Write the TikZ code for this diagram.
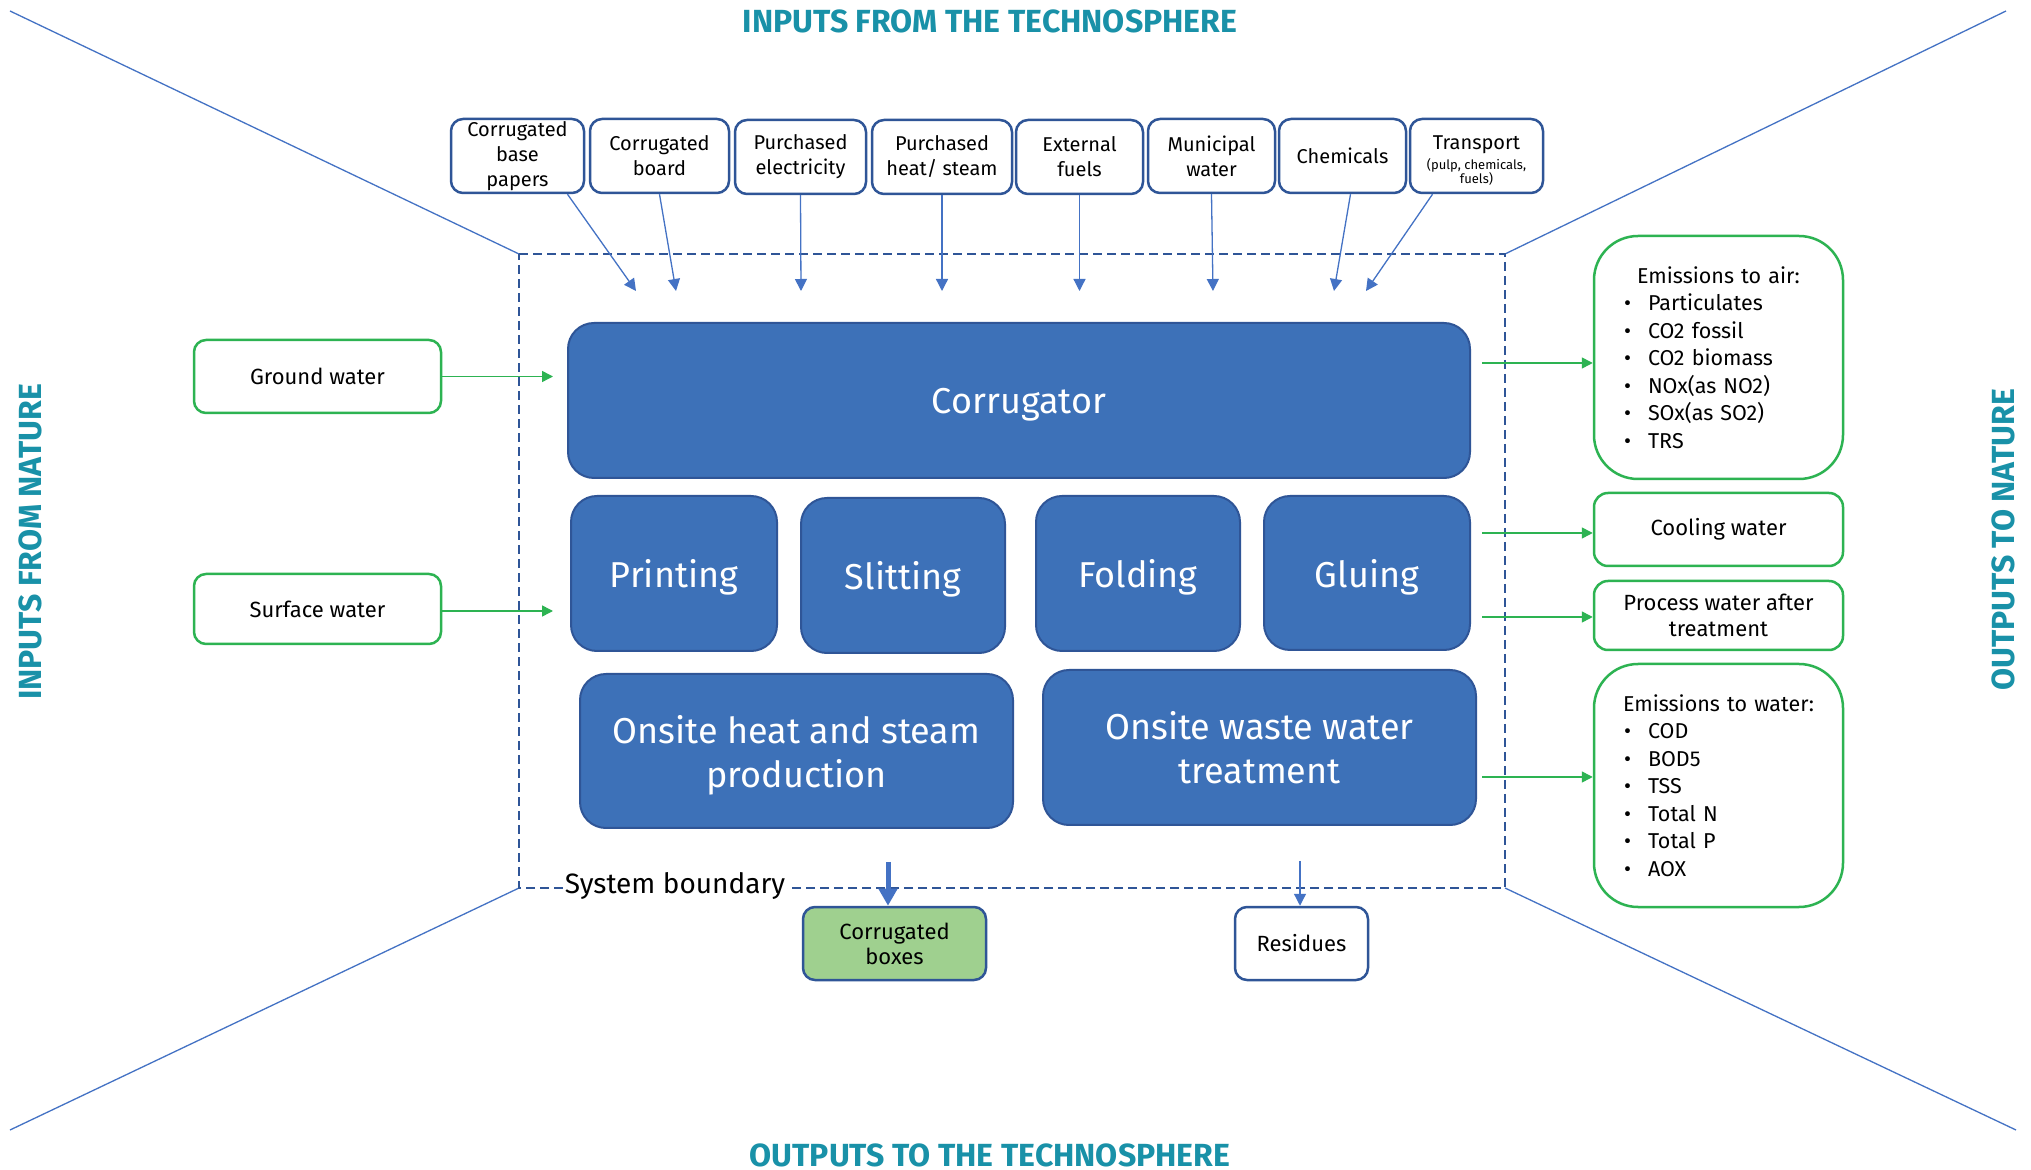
\documentclass[tikz,border=0pt]{standalone}
\usepackage{fontspec}
\setmainfont{Fira Sans}
\usetikzlibrary{arrows.meta,calc}
\definecolor{procfill}{HTML}{3D71B8}
\definecolor{darkblue}{HTML}{2F5597}
\definecolor{arrblue}{HTML}{4472C4}
\definecolor{grn}{HTML}{2DB352}
\definecolor{lgrn}{HTML}{9FD08F}
\definecolor{titleteal}{HTML}{1991A8}
\newcommand\lcabul{\hspace*{4pt}\makebox[12pt][l]{\textbullet}}
\newcommand\lcasmall{\fontsize{6.5}{7}\selectfont}
\begin{document}
\begin{tikzpicture}[x=0.5pt,y=-0.5pt,
  inbox/.style={draw=darkblue, line width=1.25pt, rounded corners=6pt, fill=white, align=center,
    font=\fontsize{10}{12.5}\selectfont, inner sep=0pt, minimum height=37pt},
  proc/.style={draw=darkblue, line width=1pt, fill=procfill, rounded corners=13pt, text=white,
    font=\fontsize{18}{22}\selectfont, align=center, inner sep=0pt, text depth=0pt},
  gbox/.style={draw=grn, line width=1.25pt, rounded corners=6pt, fill=white,
    font=\fontsize{11}{13}\selectfont, align=center, inner sep=0pt},
  listbox/.style={draw=grn, line width=1.25pt, rounded corners=22pt, fill=white,
    font=\fontsize{10.75}{13.75}\selectfont, align=left, inner sep=0pt, text width=102.5pt,
    minimum width=124.5pt, minimum height=121.5pt},
  outbox/.style={draw=darkblue, line width=1.25pt, rounded corners=6pt, align=center,
    font=\fontsize{11}{12.5}\selectfont, inner sep=0pt, minimum height=36.5pt},
  ttl/.style={text=titleteal, font=\bfseries\fontsize{16}{18}\selectfont, inner sep=0pt},
  sttl/.style={text=titleteal, font=\bfseries\fontsize{16}{18}\selectfont, inner sep=0pt, rotate=90},
  tarr/.style={draw=arrblue, line width=0.65pt, -{Triangle[length=6pt,width=6pt]}},
  garr/.style={draw=grn, line width=0.75pt, -{Triangle[length=5.5pt,width=5.5pt]}},
  barr/.style={draw=arrblue, line width=2.5pt, -{Triangle[length=8.5pt,width=9pt]}},
  diag/.style={draw=arrblue, line width=0.65pt},
  bnd/.style={draw=darkblue, line width=1pt, dash pattern=on 4.5pt off 2.5pt}
]
\fill[white] (0,0) rectangle (2031,1170);
\useasboundingbox (0,0) rectangle (2031,1170);

% titles
\node[ttl] (tin) at (990,21) {INPUTS FROM THE TECHNOSPHERE};
\node[ttl] (tout) at (990,1155) {OUTPUTS TO THE TECHNOSPHERE};
\node[sttl] (nin) at (30,542) {INPUTS FROM NATURE};
\node[sttl] (nout) at (2003,540) {OUTPUTS TO NATURE};

% system boundary and diagonals
\coordinate (bTL) at (519,254);
\coordinate (bTR) at (1505,254);
\coordinate (bBL) at (519,888);
\coordinate (bBR) at (1505,888);
\coordinate (dTL) at (10,11);
\coordinate (dTR) at (2006,11);
\coordinate (dBL) at (10,1130);
\coordinate (dBR) at (2016,1130);
\draw[diag] (dTL) -- (bTL);
\draw[diag] (dTR) -- (bTR);
\draw[diag] (dBL) -- (bBL);
\draw[diag] (dBR) -- (bBR);
\draw[bnd] (bTL) -- (bTR) -- (bBR) -- (bBL) -- cycle;
\node[font=\fontsize{14}{16}\selectfont, fill=white, inner xsep=1pt, inner ysep=1pt] (sb) at (675,886) {System boundary};

% top inputs
\node[inbox, minimum width=66.5pt] (cbp) at (517.5,156) {Corrugated\\base\\papers};
\node[inbox, minimum width=69.5pt] (cb) at (659.5,156) {Corrugated\\board};
\node[inbox, minimum width=65.5pt] (pe) at (800.5,157) {Purchased\\electricity};
\node[inbox, minimum width=70pt] (ph) at (942,157) {Purchased\\heat/ steam};
\node[inbox, minimum width=63.5pt] (ef) at (1079.5,157) {External\\fuels};
\node[inbox, minimum width=63.5pt] (mw) at (1211.5,156) {Municipal\\water};
\node[inbox, minimum width=63.5pt] (ch) at (1342.5,156) {Chemicals};
\node[inbox, minimum width=66.5pt, font=\lcasmall] (tr) at (1476.5,156)
  {{\fontsize{10}{12}\selectfont\rule{0pt}{11.5pt}Transport}\\[1pt]{\lcasmall (pulp, chemicals,}\\{\lcasmall fuels)}};

\coordinate (t1) at (636,291);
\coordinate (t2) at (676,291);
\coordinate (t3) at (801,291);
\coordinate (t4) at (942,291);
\coordinate (t5) at (1079.5,291);
\coordinate (t6) at (1213,291);
\coordinate (t7) at (1334,291);
\coordinate (t8) at (1366,291);
\draw[tarr] ($(cbp.south)+(50,0)$) -- (t1);
\draw[tarr] (cb.south) -- (t2);
\draw[tarr] (pe.south) -- (t3);
\draw[tarr] (ph.south) -- (t4);
\draw[tarr] (ef.south) -- (t5);
\draw[tarr] (mw.south) -- (t6);
\draw[tarr] ($(ch.south)+(8,0)$) -- (t7);
\draw[tarr] ($(tr.south)+(-44,0)$) -- (t8);

% processes
\node[proc, minimum width=451pt, minimum height=77.5pt] (corr) at (1019,400.5) {Corrugator};
\node[proc, minimum width=103pt, minimum height=77.5pt] (prt) at (674,573.5) {Printing};
\node[proc, minimum width=102pt, minimum height=77.5pt] (slt) at (903,575.5) {Slitting};
\node[proc, minimum width=102pt, minimum height=77.5pt] (fld) at (1138,573.5) {Folding};
\node[proc, minimum width=103pt, minimum height=77pt] (glu) at (1367,573) {Gluing};
\node[proc, minimum width=216.5pt, minimum height=77pt] (heat) at (796.5,751) {Onsite heat and steam\\production};
\node[proc, minimum width=216.5pt, minimum height=77.5pt] (wwt) at (1259.5,747.5) {Onsite waste water\\treatment};

% inputs from nature
\node[gbox, minimum width=123.5pt, minimum height=36.5pt] (gw) at (317.5,376.5) {Ground water};
\node[gbox, minimum width=123.5pt, minimum height=35pt] (sw) at (317.5,609) {Surface water};
\coordinate (g1) at (553,376.5);
\coordinate (g2) at (553,611);
\draw[garr] (gw.east) -- (g1);
\draw[garr] (sw.east |- g2) -- (g2);

% outputs to nature
\node[listbox] (air) at (1718.5,357.5) {\makebox[102.5pt][c]{Emissions to air:}\\
  \lcabul Particulates\\ \lcabul CO2 fossil\\ \lcabul CO2 biomass\\ \lcabul NOx(as NO2)\\
  \lcabul SOx(as SO2)\\ \lcabul TRS};
\node[gbox, minimum width=124.5pt, minimum height=36.5pt, rounded corners=7pt] (cool) at (1718.5,529.5) {Cooling water};
\node[gbox, minimum width=124.5pt, minimum height=34.5pt, rounded corners=7pt] (pw) at (1718.5,615.5) {Process water after\\treatment};
\node[listbox] (wat) at (1718.5,785.5) {\makebox[102.5pt][c]{Emissions to water:}\\
  \lcabul COD\\ \lcabul BOD5\\ \lcabul TSS\\ \lcabul Total N\\ \lcabul Total P\\ \lcabul AOX};
\coordinate (r1) at (1482,363);
\coordinate (r2) at (1482,533);
\coordinate (r3) at (1482,617);
\coordinate (r4) at (1482,777);
\draw[garr] (r1) -- (r1 -| air.west);
\draw[garr] (r2) -- (r2 -| cool.west);
\draw[garr] (r3) -- (r3 -| pw.west);
\draw[garr] (r4) -- (r4 -| wat.west);

% outputs to technosphere
\node[outbox, fill=lgrn, minimum width=91.5pt] (cbx) at (894.5,943.5) {Corrugated\\boxes};
\node[outbox, fill=white, minimum width=66.5pt] (res) at (1301.5,943.5) {Residues};
\coordinate (o1) at (888,862);
\coordinate (o2) at (1300,861);
\draw[barr] (o1) -- (o1 |- cbx.north);
\draw[tarr] (o2) -- (o2 |- res.north);
\end{tikzpicture}
\end{document}
